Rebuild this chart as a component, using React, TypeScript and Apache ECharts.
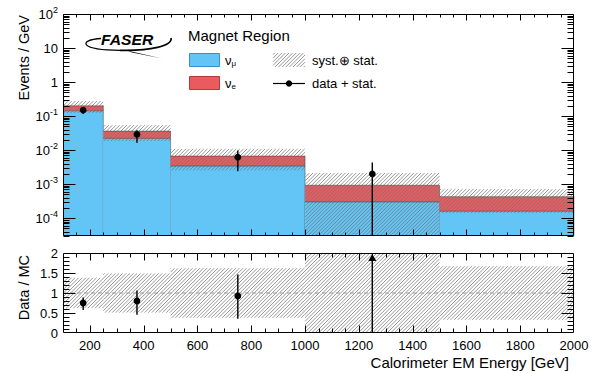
import React, { useEffect, useRef } from 'react';
import * as echarts from 'echarts';

// ---- data ----
const binEdges = [100, 250, 500, 1000, 1500, 2000];
const numuRate = [0.143, 0.0221, 0.0034, 0.0003, 0.00016];
const nueRate = [0.057, 0.0142, 0.0033, 0.00063, 0.00027];
const relSystStat = [0.38, 0.49, 0.62, 1.3, 0.67];
const dataEnergy = [175, 375, 750, 1250];
const dataRate = [0.15, 0.029, 0.0062, 0.002];
const dataRateLow = [0.115, 0.0165, 0.0024, 0];
const dataRateHigh = [0.178, 0.0385, 0.0098, 0.0043];
const xTickLabels = [200, 400, 600, 800, 1000, 1200, 1400, 1600, 1800, 2000];
const yMainTicks = [1e-4, 1e-3, 1e-2, 1e-1, 1, 10, 100];
const yRatioTicks = [0, 0.5, 1, 1.5, 2];

const X_MIN = 100;
const X_MAX = 2000;
const Y_MIN = 3e-5;
const Y_MAX = 100;
const R_MIN = 0;
const R_MAX = 2;

const FONT = '"Liberation Sans", Arial, Helvetica, sans-serif';
const BLUE = '#63c4f6';
const RED = '#e95b5f';
const HATCH = '#747474';
const HSTEP = 3.6;

const mcTotal = numuRate.map((v, i) => v + nueRate[i]);

function hatchLines(x0: number, x1: number, y0: number, y1: number, color = HATCH) {
  const out: any[] = [];
  const top = Math.min(y0, y1);
  const bot = Math.max(y0, y1);
  const start = Math.ceil((x0 + top) / HSTEP) * HSTEP;
  for (let c = start; c <= x1 + bot; c += HSTEP) {
    const lo = Math.max(x0, c - bot);
    const hi = Math.min(x1, c - top);
    if (hi - lo > 0.05) {
      out.push({
        type: 'line',
        silent: true,
        shape: { x1: lo, y1: c - lo, x2: hi, y2: c - hi },
        style: { stroke: color, lineWidth: 0.75 },
      });
    }
  }
  return out;
}

const crisp = (v: number) => Math.round(v) + 0.5;

function tickLine(x1: number, y1: number, x2: number, y2: number) {
  return {
    type: 'line',
    shape: { x1, y1, x2, y2 },
    style: { stroke: '#000', lineWidth: 1 },
  };
}

const clampMain = (v: number) => Math.min(Math.max(v, Y_MIN), Y_MAX);
const clampRatio = (v: number) => Math.min(Math.max(v, R_MIN), R_MAX);

// ---- series data ----
const mcItems = numuRate.map((mu, i) => [binEdges[i], binEdges[i + 1], mu, nueRate[i], relSystStat[i]]);
const bandItems = relSystStat.map((u, i) => [binEdges[i], binEdges[i + 1], u]);
const dataItems = dataEnergy.map((x, i) => [x, dataRate[i], dataRateLow[i], dataRateHigh[i]]);
const ratioItems = dataEnergy.map((x, i) => [
  x,
  dataRate[i] / mcTotal[i],
  dataRateLow[i] / mcTotal[i],
  dataRateHigh[i] / mcTotal[i],
]);

function renderMC(params: any, api: any) {
  const lo = api.value(0);
  const hi = api.value(1);
  const mu = api.value(2);
  const e = api.value(3);
  const u = api.value(4);
  const total = mu + e;
  const cy = (v: number) => api.coord([lo, clampMain(v)])[1];
  const xL = api.coord([lo, 1])[0];
  const xR = api.coord([hi, 1])[0];
  const yBase = cy(Y_MIN);
  const yMu = cy(mu);
  const yTot = cy(total);
  const yUp = cy(total * (1 + u));
  const yDn = 1 - u > 0 ? cy(total * (1 - u)) : yBase;
  const edge = { stroke: 'rgba(30,30,30,0.55)', lineWidth: 0.7 };
  return {
    type: 'group',
    children: [
      { type: 'rect', shape: { x: xL, y: yMu, width: xR - xL, height: yBase - yMu }, style: { fill: BLUE } },
      { type: 'rect', shape: { x: xL, y: yTot, width: xR - xL, height: yMu - yTot }, style: { fill: RED } },
      ...hatchLines(xL, xR, yUp, yDn),
      { type: 'line', shape: { x1: xL, y1: yMu, x2: xR, y2: yMu }, style: edge },
      { type: 'line', shape: { x1: xL, y1: yTot, x2: xR, y2: yTot }, style: edge },
      { type: 'line', shape: { x1: xR, y1: yTot, x2: xR, y2: yBase }, style: edge },
    ],
  };
}

function renderBand(params: any, api: any) {
  const lo = api.value(0);
  const hi = api.value(1);
  const u = api.value(2);
  const xL = api.coord([lo, 1])[0];
  const xR = api.coord([hi, 1])[0];
  const yUp = api.coord([lo, clampRatio(1 + u)])[1];
  const yDn = api.coord([lo, clampRatio(1 - u)])[1];
  return { type: 'group', children: hatchLines(xL, xR, yUp, yDn) };
}

function renderData(params: any, api: any) {
  const x = api.value(0);
  const y = api.value(1);
  const lo = api.value(2);
  const hi = api.value(3);
  const p = api.coord([x, clampMain(y)]);
  const pLo = api.coord([x, clampMain(lo)]);
  const pHi = api.coord([x, clampMain(hi)]);
  return {
    type: 'group',
    children: [
      { type: 'line', shape: { x1: p[0], y1: pLo[1], x2: p[0], y2: pHi[1] }, style: { stroke: '#000', lineWidth: 1.4 } },
      { type: 'circle', shape: { cx: p[0], cy: p[1], r: 3.4 }, style: { fill: '#000' } },
    ],
  };
}

function renderRatioData(params: any, api: any) {
  const x = api.value(0);
  const r = api.value(1);
  const lo = api.value(2);
  const hi = api.value(3);
  const pLo = api.coord([x, clampRatio(lo)]);
  const pHi = api.coord([x, clampRatio(hi)]);
  if (r > R_MAX) {
    const top = api.coord([x, R_MAX]);
    return {
      type: 'group',
      children: [
        { type: 'line', shape: { x1: top[0], y1: pLo[1], x2: top[0], y2: top[1] + 4 }, style: { stroke: '#000', lineWidth: 1.4 } },
        {
          type: 'polygon',
          shape: { points: [[top[0], top[1] + 1], [top[0] - 4, top[1] + 8], [top[0] + 4, top[1] + 8]] },
          style: { fill: '#000' },
        },
      ],
    };
  }
  const p = api.coord([x, r]);
  return {
    type: 'group',
    children: [
      { type: 'line', shape: { x1: p[0], y1: pLo[1], x2: p[0], y2: pHi[1] }, style: { stroke: '#000', lineWidth: 1.4 } },
      { type: 'circle', shape: { cx: p[0], cy: p[1], r: 3.4 }, style: { fill: '#000' } },
    ],
  };
}

function xTicks(api: any, yRef: number, gy0: number, gy1: number, majorLen: number, minorLen: number) {
  const out: any[] = [];
  for (let v = X_MIN + 50; v < X_MAX; v += 50) {
    const x = crisp(api.coord([v, yRef])[0]);
    const len = xTickLabels.indexOf(v) >= 0 ? majorLen : minorLen;
    out.push(tickLine(x, gy1, x, gy1 - len));
    out.push(tickLine(x, gy0, x, gy0 + len));
  }
  return out;
}

function renderMainFrame(params: any, api: any) {
  const pA = api.coord([X_MIN, Y_MIN]);
  const pB = api.coord([X_MAX, Y_MAX]);
  const gx0 = crisp(pA[0]);
  const gx1 = crisp(pB[0]) - 1;
  const gy0 = crisp(pB[1]);
  const gy1 = crisp(pA[1]) - 1;
  const children: any[] = [];
  children.push(...xTicks(api, 1, gy0, gy1, 6, 3));
  yMainTicks.forEach((v) => {
    const y = crisp(api.coord([1000, v])[1]);
    children.push(tickLine(gx0, y, gx0 + 12, y));
    children.push(tickLine(gx1, y, gx1 - 12, y));
  });
  for (let n = -5; n <= 1; n++) {
    for (let k = 2; k <= 9; k++) {
      const v = k * Math.pow(10, n);
      if (v <= Y_MIN || v >= Y_MAX) continue;
      const y = crisp(api.coord([1000, v])[1]);
      children.push(tickLine(gx0, y, gx0 + 6, y));
      children.push(tickLine(gx1, y, gx1 - 6, y));
    }
  }
  children.push({
    type: 'rect',
    shape: { x: gx0, y: gy0, width: gx1 - gx0, height: gy1 - gy0 },
    style: { fill: 'none', stroke: '#000', lineWidth: 1 },
  });
  return { type: 'group', children };
}

function renderRatioFrame(params: any, api: any) {
  const pA = api.coord([X_MIN, R_MIN]);
  const pB = api.coord([X_MAX, R_MAX]);
  const gx0 = crisp(pA[0]);
  const gx1 = crisp(pB[0]) - 1;
  const gy0 = crisp(pB[1]);
  const gy1 = crisp(pA[1]) - 1;
  const children: any[] = [];
  children.push(...xTicks(api, 1, gy0, gy1, 7, 4));
  for (let i = 0; i <= 20; i++) {
    const v = i * 0.1;
    if (i === 0 || i === 20) continue;
    const y = crisp(api.coord([1000, v])[1]);
    const major = yRatioTicks.some((t) => Math.abs(t - v) < 1e-6);
    const len = major ? 12 : 6;
    children.push(tickLine(gx0, y, gx0 + len, y));
    children.push(tickLine(gx1, y, gx1 - len, y));
  }
  children.push({
    type: 'rect',
    shape: { x: gx0, y: gy0, width: gx1 - gx0, height: gy1 - gy0 },
    style: { fill: 'none', stroke: '#000', lineWidth: 1 },
  });
  return { type: 'group', children };
}

function buildGraphics() {
  const txt = (text: string, x: number, y: number, size: number, extra: any = {}) => ({
    type: 'text',
    x,
    y,
    silent: true,
    style: { text, fontSize: size, fontFamily: FONT, fill: '#000', verticalAlign: 'middle', ...extra },
  });
  const g: any[] = [];
  // axis titles
  g.push({ ...txt('Events / GeV', 24, 15, 14.5, { align: 'right' }), rotation: Math.PI / 2 });
  g.push({ ...txt('Data / MC', 24, 255, 14.5, { align: 'right' }), rotation: Math.PI / 2 });
  g.push(txt('Calorimeter EM Energy [GeV]', 569, 362, 15, { align: 'right' }));
  // legend
  g.push(txt('Magnet Region', 188, 35, 15));
  g.push({ type: 'rect', shape: { x: 189.5, y: 53.5, width: 30, height: 13 }, style: { fill: BLUE, stroke: '#3b8fc4', lineWidth: 1 } });
  g.push({ type: 'rect', shape: { x: 189.5, y: 76.5, width: 30, height: 13 }, style: { fill: RED, stroke: '#b8393d', lineWidth: 1 } });
  const sub = (base: string, s: string, y: number) => ({
    type: 'text',
    x: 225,
    y,
    style: {
      text: '{a|' + base + '}{s|' + s + '}',
      verticalAlign: 'middle',
      rich: {
        a: { fontSize: 13, fontFamily: FONT, fill: '#000', color: '#000' },
        s: { fontSize: 8, fontFamily: FONT, fill: '#000', color: '#000', verticalAlign: 'bottom', padding: [6, 0, 0, 0] },
      },
    },
  });
  g.push(sub('ν', 'μ', 60));
  g.push(sub('ν', 'e', 83));
  g.push({ type: 'group', children: hatchLines(273, 305, 53, 67) });
  g.push(txt('syst.⊕ stat.', 312, 60, 13));
  g.push({ type: 'line', shape: { x1: 273, y1: 83.5, x2: 305, y2: 83.5 }, style: { stroke: '#000', lineWidth: 1.2 } });
  g.push({ type: 'circle', shape: { cx: 289, cy: 83.5, r: 3.2 }, style: { fill: '#000' } });
  g.push(txt('data + stat.', 312, 83, 13));
  // FASER logo
  g.push({
    type: 'bezierCurve',
    shape: { x1: 101, y1: 38.5, cpx1: 78, cpy1: 40, cpx2: 79, cpy2: 50, x2: 120, y2: 50.3 },
    style: { stroke: '#000', lineWidth: 1.3, fill: 'none' },
  });
  g.push({
    type: 'bezierCurve',
    shape: { x1: 120, y1: 50.3, cpx1: 150, cpy1: 51, cpx2: 173, cpy2: 46, x2: 171, y2: 38 },
    style: { stroke: '#000', lineWidth: 1.7, fill: 'none' },
  });
  g.push({
    type: 'polygon',
    shape: { points: [[126, 50.2], [162, 58.5], [132, 52.6]] },
    style: { fill: '#000' },
  });
  g.push({
    type: 'text',
    x: 101,
    y: 40.5,
    scaleX: 1.12,
    style: {
      text: 'FASER',
      fontSize: 14,
      fontWeight: 'bold',
      fontStyle: 'italic',
      fontFamily: FONT,
      fill: '#000',
      verticalAlign: 'middle',
      stroke: '#fff',
      lineWidth: 2,
    },
  });
  return g;
}

export default function App() {
  const ref = useRef<HTMLDivElement>(null);
  useEffect(() => {
    if (!ref.current) return;
    const chart = echarts.init(ref.current, undefined, { renderer: 'svg' });
    const labelBase = { color: '#000', fontSize: 13, fontFamily: FONT };
    const option: any = {
      animation: false,
      backgroundColor: '#fff',
      grid: [
        { left: 63, top: 14, width: 511, height: 222, show: false },
        { left: 63, top: 253, width: 511, height: 80, show: false },
      ],
      xAxis: [
        {
          gridIndex: 0,
          type: 'value',
          min: X_MIN,
          max: X_MAX,
          axisLine: { show: false },
          axisTick: { show: false },
          axisLabel: { show: false },
          splitLine: { show: false },
        },
        {
          gridIndex: 1,
          type: 'value',
          min: X_MIN,
          max: X_MAX,
          interval: 100,
          axisLine: { show: false },
          axisTick: { show: false },
          splitLine: { show: false },
          axisLabel: {
            ...labelBase,
            margin: 6,
            formatter: (v: number) => (xTickLabels.indexOf(Math.round(v)) >= 0 ? String(Math.round(v)) : ''),
          },
        },
      ],
      yAxis: [
        {
          gridIndex: 0,
          type: 'log',
          logBase: 10,
          min: Y_MIN,
          max: Y_MAX,
          axisLine: { show: false },
          axisTick: { show: false },
          splitLine: { show: false },
          axisLabel: {
            ...labelBase,
            margin: 5,
            formatter: (v: number) => {
              const lg = Math.log10(v);
              const e = Math.round(lg);
              if (Math.abs(lg - e) > 0.01) return '';
              if (!yMainTicks.some((t) => Math.abs(Math.log10(t) - e) < 0.01)) return '';
              if (e === 0) return '{b|1}';
              if (e === 1) return '{b|10}';
              return '{b|10}{s|' + e + '}';
            },
            rich: {
              b: { fontSize: 13, fontFamily: FONT, color: '#000', lineHeight: 17 },
              s: { fontSize: 9, fontFamily: FONT, color: '#000', verticalAlign: 'top', lineHeight: 10 },
            },
          },
        },
        {
          gridIndex: 1,
          type: 'value',
          min: R_MIN,
          max: R_MAX,
          interval: 0.5,
          axisLine: { show: false },
          axisTick: { show: false },
          splitLine: { show: false },
          axisLabel: { ...labelBase, margin: 5 },
        },
      ],
      series: [
        { type: 'custom', name: 'MC', xAxisIndex: 0, yAxisIndex: 0, data: mcItems, renderItem: renderMC, z: 2, silent: true },
        { type: 'custom', name: 'data', xAxisIndex: 0, yAxisIndex: 0, data: dataItems, renderItem: renderData, z: 4, silent: true },
        { type: 'custom', name: 'frameTop', xAxisIndex: 0, yAxisIndex: 0, data: [[1000, 1]], renderItem: renderMainFrame, z: 6, silent: true },
        { type: 'custom', name: 'band', xAxisIndex: 1, yAxisIndex: 1, data: bandItems, renderItem: renderBand, z: 2, silent: true },
        {
          type: 'line',
          name: 'unity',
          xAxisIndex: 1,
          yAxisIndex: 1,
          data: [[X_MIN, 1], [X_MAX, 1]],
          symbol: 'none',
          lineStyle: { color: '#9a9a9a', width: 1, type: [4, 3] },
          z: 3,
          silent: true,
        },
        { type: 'custom', name: 'ratio', xAxisIndex: 1, yAxisIndex: 1, data: ratioItems, renderItem: renderRatioData, z: 4, silent: true },
        { type: 'custom', name: 'frameRatio', xAxisIndex: 1, yAxisIndex: 1, data: [[1000, 1]], renderItem: renderRatioFrame, z: 6, silent: true },
      ],
      graphic: buildGraphics(),
    };
    chart.setOption(option);
    return () => {
      chart.dispose();
    };
  }, []);
  return (
    <div
      ref={ref}
      style={{ position: 'fixed', left: 0, top: 0, width: 592, height: 373, background: '#fff' }}
    />
  );
}
